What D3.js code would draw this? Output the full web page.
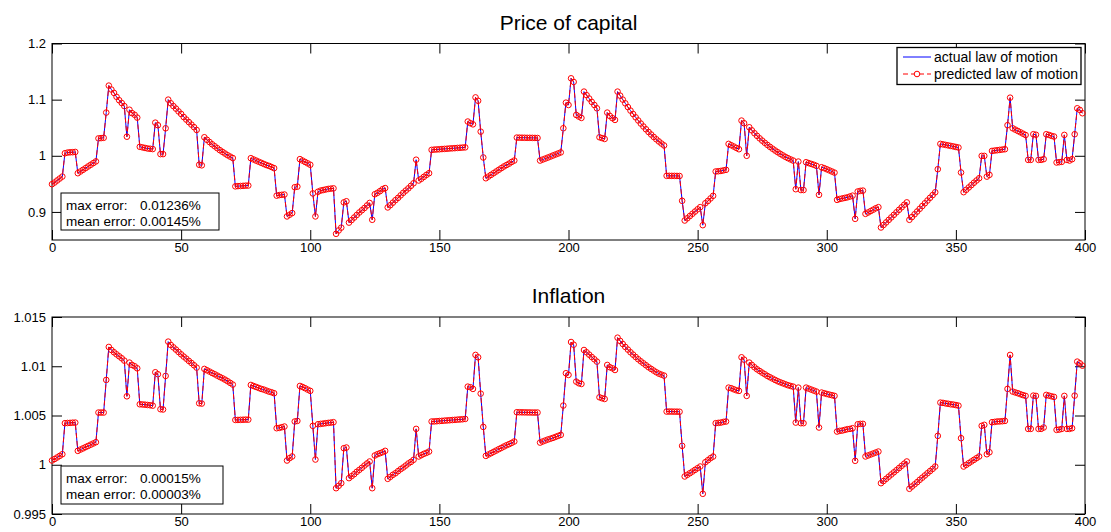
<!DOCTYPE html>
<html><head><meta charset="utf-8">
<script src="https://cdn.jsdelivr.net/npm/d3@7"></script>
<style>
html,body{margin:0;padding:0;background:#fff;}
svg{display:block;font-family:"Liberation Sans",Arial,Helvetica,sans-serif;}
</style></head>
<body>
<svg id="chart" width="1111" height="532"></svg>
<script>
// ---------------- data ----------------
const periods = d3.range(0, 400);
const xTicks = [0, 50, 100, 150, 200, 250, 300, 350, 400];
const priceTicks = [0.9, 1, 1.1, 1.2];
const inflationTicks = [0.995, 1, 1.005, 1.01, 1.015];

const priceActual = [
0.9494,0.9524,0.956,0.9595,0.963,1.0045,1.0057,1.0062,1.0064,1.0068,
0.969,0.972,0.975,0.978,0.981,0.984,0.987,0.990,1.031,1.0315,
1.032,1.077,1.125,1.118,1.112,1.105,1.099,1.094,1.0885,1.034,
1.082,1.076,1.073,1.068,1.016,1.015,1.014,1.013,1.0125,1.012,
1.059,1.0545,1.003,1.003,1.049,1.100,1.0935,1.0885,1.084,1.079,
1.0745,1.069,1.0645,1.060,1.0555,1.051,1.046,0.984,0.983,1.033,
1.0285,1.0245,1.0205,1.017,1.0135,1.010,1.007,1.004,1.001,0.9985,
0.996,0.9455,0.946,0.9462,0.9465,0.9468,0.947,0.9957,0.9935,0.9915,
0.9895,0.9875,0.9855,0.9835,0.982,0.980,0.978,0.929,0.930,0.9305,
0.931,0.892,0.895,0.898,0.944,0.945,0.994,0.9915,0.989,0.9865,
0.984,0.933,0.892,0.936,0.938,0.939,0.940,0.941,0.9415,0.942,
0.861,0.867,0.872,0.917,0.919,0.881,0.8855,0.890,0.8945,0.899,
0.903,0.907,0.9115,0.916,0.886,0.9315,0.934,0.937,0.9405,0.9425,
0.908,0.912,0.9165,0.921,0.925,0.9295,0.934,0.938,0.942,0.9465,
0.951,0.993,0.956,0.959,0.9625,0.966,0.969,1.0105,1.011,1.0113,
1.0116,1.012,1.0123,1.0126,1.013,1.0133,1.0136,1.014,1.0143,1.0146,
1.015,1.061,1.058,1.056,1.104,1.098,1.043,0.997,0.960,0.963,
0.966,0.969,0.972,0.975,0.978,0.981,0.9835,0.986,0.989,0.9915,
1.0324,1.0323,1.0322,1.0321,1.032,1.032,1.0319,1.0318,1.0317,0.9915,
0.9933,0.995,0.9968,0.9986,1.0005,1.0023,1.0041,1.006,1.049,1.0946,
1.0905,1.138,1.1315,1.0727,1.0698,1.0674,1.1143,1.108,1.102,1.096,
1.0905,1.0846,1.033,1.0315,1.030,1.0769,1.071,1.067,1.0639,1.1143,
1.1071,1.1001,1.0934,1.0868,1.0805,1.0744,1.0685,1.0629,1.0574,1.0522,
1.0472,1.0424,1.0379,1.0335,1.0294,1.0255,1.0218,1.0184,0.9643,0.9643,
0.9642,0.9642,0.9641,0.964,0.9198,0.8847,0.8887,0.8927,0.8967,0.9007,
0.9047,0.9085,0.8764,0.9155,0.9195,0.924,0.9287,0.972,0.9725,0.973,
0.974,0.975,1.0212,1.0188,1.0165,1.014,1.0117,1.0627,1.058,1.000,
1.0508,1.0453,1.0402,1.0355,1.0311,1.0270,1.0231,1.0194,1.0159,1.0126,
1.0094,1.0064,1.0035,1.0007,0.9981,0.9957,0.9935,0.9915,0.9405,0.9897,
0.939,0.939,0.9885,0.987,0.9855,0.984,0.982,0.9305,0.9796,0.978,
0.976,0.974,0.972,0.970,0.9215,0.923,0.924,0.925,0.926,0.9275,
0.929,0.8877,0.9364,0.9375,0.938,0.8966,0.899,0.9015,0.904,0.9065,
0.9085,0.8723,0.8768,0.8813,0.8858,0.8903,0.8948,0.8993,0.9038,0.9083,
0.9128,0.917,0.886,0.8909,0.8958,0.9007,0.9056,0.9105,0.9154,0.9203,
0.9252,0.930,0.935,0.9761,1.0212,1.0203,1.0194,1.0185,1.0176,1.0167,
1.0157,1.0147,0.9702,0.9352,0.9394,0.9436,0.9478,0.952,0.956,0.960,
0.9998,0.9998,0.9629,0.966,1.0087,1.0093,1.0099,1.0105,1.0111,1.0117,
1.0545,1.1035,1.049,1.0466,1.0442,1.0418,1.0394,1.037,0.9927,0.9927,
1.0384,1.0375,0.9927,0.9927,0.994,1.0384,1.0372,1.0355,1.0343,0.988,
0.9886,0.9892,1.0372,0.9927,0.9915,0.9939,1.0384,1.0846,1.0817,1.0758
];
// predicted law of motion coincides with the actual one to within 0.01%
const pricePredicted = priceActual.slice();

const inflationActual = [
1.00043,1.00058,1.00074,1.0009,1.00107,1.00422,1.00424,1.00425,1.00427,1.00428,
1.00141,1.00154,1.00166,1.00179,1.00191,1.00204,1.00216,1.00229,1.0053,1.0053,
1.0053,1.00861,1.01196,1.01165,1.01142,1.01121,1.01101,1.01081,1.01057,1.00695,
1.01037,1.01013,1.01,1.00979,1.00614,1.00612,1.0061,1.00607,1.00604,1.006,
1.00939,1.00919,1.00564,1.00561,1.00902,1.0125,1.01216,1.01192,1.01169,1.01145,
1.01121,1.01098,1.01077,1.01054,1.01033,1.0101,1.00986,1.00624,1.00621,1.00973,
1.00959,1.00946,1.00932,1.00919,1.00905,1.00891,1.00878,1.00864,1.00848,1.00831,
1.00814,1.00455,1.00455,1.00456,1.00457,1.00458,1.00458,1.0081,1.008,1.0079,
1.0078,1.0077,1.00763,1.00753,1.00743,1.00736,1.00726,1.00371,1.00374,1.00381,
1.00388,1.00043,1.00067,1.00084,1.00439,1.00445,1.008,1.0079,1.00777,1.00763,
1.0075,1.00395,1.00053,1.00411,1.00415,1.00418,1.00422,1.00425,1.00428,1.00432,
0.99762,0.99786,0.99813,1.00168,1.00175,0.99864,0.99884,0.99904,0.99928,0.99948,
0.99969,0.99992,1.00013,1.00033,0.99762,1.00094,1.00107,1.00117,1.00127,1.00141,
0.99857,0.99877,0.99898,0.99914,0.99935,0.99955,0.99972,0.99992,1.00013,1.00029,
1.0005,1.00364,1.00084,1.00097,1.00111,1.00121,1.00134,1.00439,1.0044,1.00442,
1.00444,1.00446,1.00448,1.0045,1.00452,1.00454,1.00456,1.00458,1.0046,1.00462,
1.00465,1.00793,1.00787,1.0077,1.01115,1.01091,1.00722,1.00384,1.0009,1.00104,
1.00117,1.00131,1.00144,1.00158,1.00171,1.00185,1.00198,1.00209,1.00222,1.00236,
1.00533,1.00533,1.00532,1.00532,1.00531,1.00531,1.0053,1.0053,1.0053,1.00225,
1.00236,1.00246,1.00256,1.00264,1.00273,1.00283,1.00293,1.00303,1.00601,1.00929,
1.00912,1.01246,1.01219,1.00844,1.00827,1.0082,1.01165,1.01142,1.01118,1.01094,
1.01071,1.01047,1.00685,1.00675,1.00668,1.01013,1.0099,1.00979,1.00962,1.0129,
1.01257,1.01226,1.01196,1.01169,1.01142,1.01118,1.01094,1.01071,1.0105,1.0103,
1.0101,1.0099,1.00973,1.00956,1.00939,1.00925,1.00915,1.00905,1.0054,1.0054,
1.0054,1.00539,1.00539,1.00538,1.00192,0.99881,0.99898,0.99914,0.99931,0.99948,
0.99965,0.99982,0.99705,1.00026,1.00046,1.00067,1.00083,1.00422,1.00425,1.00428,
1.00435,1.00439,1.00783,1.00777,1.00766,1.00756,1.0075,1.01091,1.01067,1.00699,
1.01037,1.01013,1.0099,1.00969,1.00952,1.00935,1.00919,1.00902,1.00888,1.00875,
1.00861,1.00848,1.00837,1.00827,1.00817,1.00807,1.008,1.00793,1.00428,1.00783,
1.00422,1.00422,1.00783,1.00773,1.00763,1.00753,1.00743,1.00378,1.00733,1.00726,
1.00719,1.00712,1.00706,1.00699,1.00337,1.00344,1.00347,1.00354,1.00361,1.00364,
1.00371,1.0004,1.00411,1.00415,1.00415,1.00084,1.00094,1.00104,1.00114,1.00124,
1.00134,0.99813,0.99835,0.99857,0.99879,0.99901,0.99923,0.99945,0.99967,0.99989,
1.00011,1.00033,0.99756,0.99779,0.99801,0.99823,0.99847,0.99869,0.99891,0.99914,
0.99936,0.99958,0.99982,1.00293,1.00631,1.00628,1.00623,1.00619,1.00614,1.00611,
1.00606,1.006,1.0027,0.99982,0.99999,1.00016,1.00033,1.0005,1.00067,1.00084,
1.00395,1.00405,1.00107,1.00127,1.00432,1.00435,1.00439,1.0044,1.00442,1.00445,
1.0077,1.01115,1.00743,1.00734,1.00726,1.00716,1.00707,1.00699,1.00364,1.00364,
1.00702,1.00699,1.00364,1.00364,1.00378,1.00709,1.00702,1.00695,1.00689,1.00354,
1.00357,1.00364,1.00699,1.00364,1.00364,1.00371,1.00702,1.01047,1.0103,1.01006
];
const inflationPredicted = inflationActual.slice();

const legendLabels = ["actual law of motion", "predicted law of motion"];
const priceErrors = [["max error:", "0.01236%"], ["mean error:", "0.00145%"]];
const inflationErrors = [["max error:", "0.00015%"], ["mean error:", "0.00003%"]];

// ---------------- drawing ----------------
const svg = d3.select("#chart");
const X0 = 52, X1 = 1085;
const FONT = "'Liberation Sans',Arial,Helvetica,sans-serif";
const x = d3.scaleLinear().domain([0, 400]).range([X0, X1]);
const fmt = d => String(+d.toFixed(3));

function panel(cfg) {
  const y = d3.scaleLinear().domain(cfg.domain).range([cfg.bottom, cfg.top]);
  const g = svg.append("g");
  g.append("text").attr("x", (X0 + X1) / 2).attr("y", cfg.top - 14)
    .attr("text-anchor", "middle").attr("font-size", 21).attr("fill", "#000")
    .text(cfg.title);

  const axisStyle = sel => {
    sel.select(".domain").remove();
    sel.selectAll("line").attr("stroke", "#000");
    sel.selectAll("text").attr("font-size", 13).attr("fill", "#000").attr("font-family", FONT);
  };
  g.append("g").attr("transform", `translate(0,${cfg.bottom})`)
    .call(d3.axisBottom(x).tickValues(xTicks).tickSize(-10).tickPadding(3).tickFormat(d3.format("d")))
    .call(axisStyle);
  g.append("g").attr("transform", `translate(0,${cfg.top})`)
    .call(d3.axisTop(x).tickValues(xTicks).tickSize(-10).tickFormat(""))
    .call(axisStyle);
  g.append("g").attr("transform", `translate(${X0},0)`)
    .call(d3.axisLeft(y).tickValues(cfg.ticks).tickSize(-10).tickPadding(6).tickFormat(fmt))
    .call(axisStyle);
  g.append("g").attr("transform", `translate(${X1},0)`)
    .call(d3.axisRight(y).tickValues(cfg.ticks).tickSize(-10).tickFormat(""))
    .call(axisStyle);
  g.append("rect").attr("x", X0).attr("y", cfg.top).attr("width", X1 - X0)
    .attr("height", cfg.bottom - cfg.top).attr("fill", "none").attr("stroke", "#000");

  const line = d3.line().x((d, i) => x(periods[i])).y(d => y(d));
  g.append("path").datum(cfg.actual).attr("d", line)
    .attr("fill", "none").attr("stroke", "#0000ff").attr("stroke-width", 1);
  g.append("path").datum(cfg.predicted).attr("d", line)
    .attr("fill", "none").attr("stroke", "#ff0000").attr("stroke-width", 1)
    .attr("stroke-dasharray", "5,3");
  g.append("g").selectAll("circle").data(cfg.predicted).join("circle")
    .attr("cx", (d, i) => x(periods[i])).attr("cy", d => y(d)).attr("r", 2.8)
    .attr("fill", "none").attr("stroke", "#ff0000").attr("stroke-width", 1);

  const eb = cfg.errBox;
  g.append("rect").attr("x", eb.x).attr("y", eb.y).attr("width", eb.w).attr("height", eb.h)
    .attr("fill", "#fff").attr("stroke", "#000");
  cfg.errors.forEach((e, k) => {
    const ty = eb.y + 17 + k * 16;
    g.append("text").attr("x", eb.x + 5).attr("y", ty).attr("font-size", 13.5).text(e[0]);
    g.append("text").attr("x", eb.x + 79).attr("y", ty).attr("font-size", 13.5).text(e[1]);
  });
  return g;
}

const topPanel = panel({
  title: "Price of capital", domain: [0.85, 1.2], top: 43.5, bottom: 240,
  ticks: priceTicks, actual: priceActual, predicted: pricePredicted,
  errors: priceErrors, errBox: {x: 61, y: 193, w: 158, h: 37}
});
panel({
  title: "Inflation", domain: [0.995, 1.015], top: 317, bottom: 514,
  ticks: inflationTicks, actual: inflationActual, predicted: inflationPredicted,
  errors: inflationErrors, errBox: {x: 61, y: 466, w: 162, h: 38}
});

const lg = topPanel.append("g");
lg.append("rect").attr("x", 897).attr("y", 47.5).attr("width", 184).attr("height", 37)
  .attr("fill", "#fff").attr("stroke", "#000").attr("stroke-width", 1.3);
lg.append("line").attr("x1", 903).attr("x2", 931).attr("y1", 57).attr("y2", 57)
  .attr("stroke", "#0000ff");
lg.append("line").attr("x1", 903).attr("x2", 931).attr("y1", 74).attr("y2", 74)
  .attr("stroke", "#ff0000").attr("stroke-dasharray", "5,3");
lg.append("circle").attr("cx", 917).attr("cy", 74).attr("r", 2.8)
  .attr("fill", "#fff").attr("stroke", "#ff0000");
legendLabels.forEach((t, k) => {
  lg.append("text").attr("x", 934).attr("y", 62 + k * 17).attr("font-size", 14).text(t);
});
</script>
</body></html>
